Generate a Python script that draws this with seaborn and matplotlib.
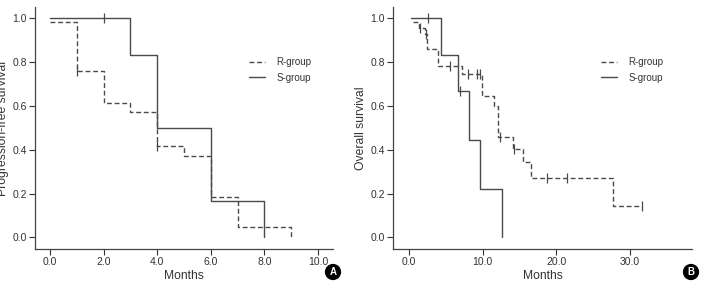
import pandas as pd
import matplotlib
matplotlib.use("Agg")
import matplotlib.pyplot as plt
import seaborn as sns

# panel A: progression-free survival (step points, steps-post)
pfs_r_t = [0, 1.0, 2.0, 3.0, 4.0, 5.0, 6.0, 7.0, 9.0]
pfs_r_s = [0.98, 0.757, 0.611, 0.572, 0.417, 0.372, 0.185, 0.048, 0.0]
pfs_s_t = [0, 3.0, 4.0, 6.0, 8.0]
pfs_s_s = [1.0, 0.833, 0.5, 0.167, 0.0]
pfs_r_cens_t = [1.0, 4.0]
pfs_r_cens_s = [0.757, 0.417]
pfs_s_cens_t = [2.0]
pfs_s_cens_s = [1.0]

# panel B: overall survival
os_r_t = [0.5, 1.3, 2.2, 2.5, 4.0, 7.2, 9.9, 11.5, 12.1, 14.1, 15.5, 16.6, 27.7, 31.6]
os_r_s = [0.98, 0.955, 0.925, 0.86, 0.78, 0.745, 0.645, 0.60, 0.46, 0.405, 0.344, 0.273, 0.142, 0.142]
os_s_t = [0.3, 4.3, 6.6, 8.1, 9.7, 12.6]
os_s_s = [1.0, 0.833, 0.667, 0.444, 0.222, 0.0]
os_r_cens_t = [1.5, 2.3, 5.6, 8.0, 9.3, 9.6, 12.4, 14.3, 18.7, 21.5, 31.6]
os_r_cens_s = [0.955, 0.925, 0.78, 0.745, 0.745, 0.745, 0.46, 0.405, 0.273, 0.273, 0.142]
os_s_cens_t = [2.6, 6.9]
os_s_cens_s = [1.0, 0.667]

groups = ["R-group", "S-group"]
line_col = "#4a4a4a"
txt_col = "#333333"

sns.set_theme(style="ticks")
plt.rcParams["font.family"] = ["Liberation Sans", "DejaVu Sans"]


def frame(rt, rs, st, ss):
    return pd.concat([
        pd.DataFrame({"time": rt, "surv": rs, "group": groups[0]}),
        pd.DataFrame({"time": st, "surv": ss, "group": groups[1]}),
    ], ignore_index=True)


def draw(ax, curves, cens, xlim, xticks, ylabel, leg_x):
    sns.lineplot(data=curves, x="time", y="surv", hue="group", style="group",
                 hue_order=groups, style_order=groups,
                 palette=[line_col, line_col],
                 dashes={"R-group": (3.5, 2), "S-group": ""},
                 drawstyle="steps-post", estimator=None, sort=False,
                 linewidth=1.0, ax=ax)
    sns.scatterplot(data=cens, x="time", y="surv", marker="|", s=45,
                    color=line_col, linewidth=0.9, legend=False, ax=ax)
    ax.set_xlim(*xlim)
    ax.set_ylim(-0.053, 1.05)
    ax.set_xticks(xticks)
    ax.set_xticklabels([f"{v:.1f}" for v in xticks])
    ax.set_yticks([0, 0.2, 0.4, 0.6, 0.8, 1.0])
    ax.set_yticklabels([f"{v:.1f}" for v in [0, 0.2, 0.4, 0.6, 0.8, 1.0]])
    ax.tick_params(labelsize=7.5, colors=txt_col, length=4, width=0.8, pad=2)
    for side in ["left", "bottom"]:
        ax.spines[side].set_color("#444444")
        ax.spines[side].set_linewidth(0.9)
    sns.despine(ax=ax)
    ax.set_xlabel("Months", fontsize=8.7, color=txt_col)
    ax.set_ylabel(ylabel, fontsize=8.7, color=txt_col)
    ax.xaxis.set_label_coords(0.5, -0.088)
    ax.yaxis.set_label_coords(-0.088, 0.5)
    leg = ax.legend(loc="upper left", bbox_to_anchor=(leg_x, 0.83), frameon=False,
                    fontsize=7, handlelength=1.6, handletextpad=1.2,
                    labelspacing=0.6)
    for t in leg.get_texts():
        t.set_color(txt_col)


fig = plt.figure(figsize=(7.03, 2.83), dpi=100)
ax_a = fig.add_axes([0.0498, 0.120, 0.424, 0.855])
ax_b = fig.add_axes([0.5595, 0.120, 0.4245, 0.855])

pfs_lines = frame(pfs_r_t, pfs_r_s, pfs_s_t, pfs_s_s)
pfs_cens = pd.DataFrame({"time": pfs_r_cens_t + pfs_s_cens_t,
                         "surv": pfs_r_cens_s + pfs_s_cens_s})
os_lines = frame(os_r_t, os_r_s, os_s_t, os_s_s)
os_cens = pd.DataFrame({"time": os_r_cens_t + os_s_cens_t,
                        "surv": os_r_cens_s + os_s_cens_s})

draw(ax_a, pfs_lines, pfs_cens, (-0.56, 10.56), [0, 2, 4, 6, 8, 10],
     "Progression-free survival", 0.69)
draw(ax_b, os_lines, os_cens, (-2.13, 38.4), [0, 10, 20, 30],
     "Overall survival", 0.667)

for x, letter in [(333 / 703, "A"), (691 / 703, "B")]:
    fig.text(x, 11 / 283, letter, ha="center", va="center", color="white",
             fontsize=7, fontweight="bold",
             bbox=dict(boxstyle="circle,pad=0.25", fc="black", ec="black"))

fig.savefig("out.png", dpi=100)
